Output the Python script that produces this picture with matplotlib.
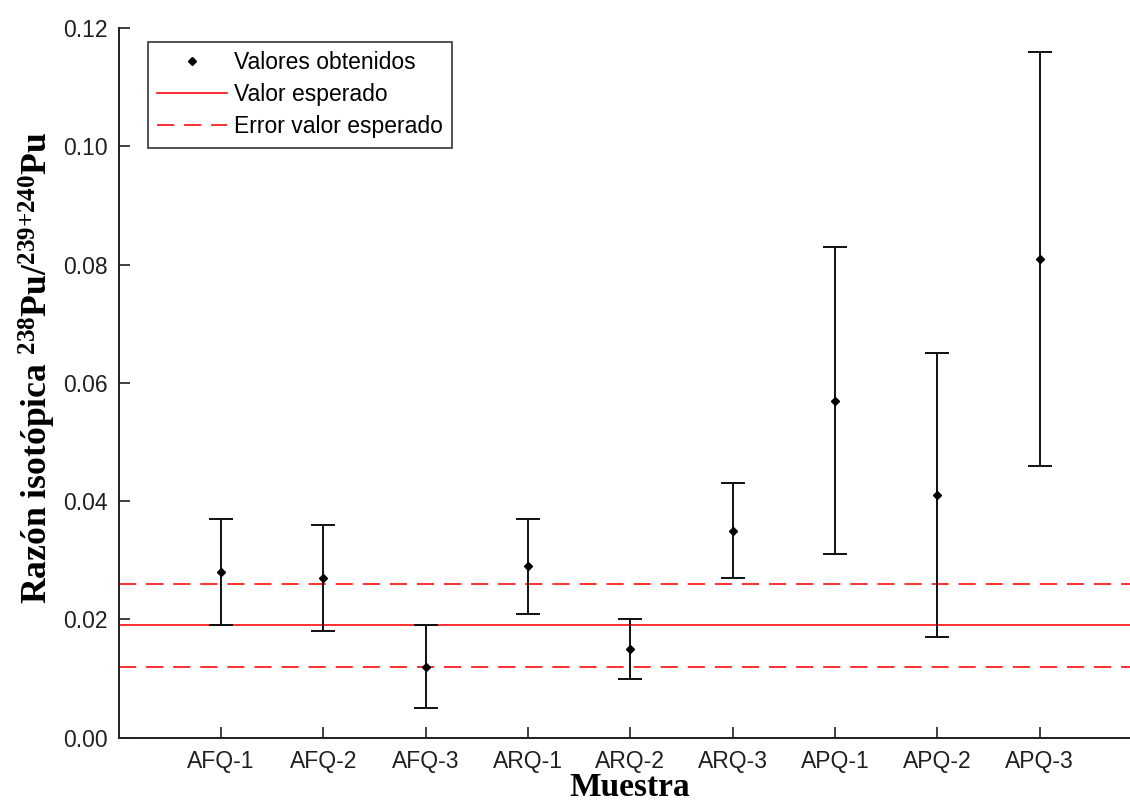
import numpy as np
import matplotlib
matplotlib.use("Agg")
from matplotlib import pyplot as plt
from matplotlib.ticker import FormatStrFormatter

# datos
muestras = ['AFQ-1', 'AFQ-2', 'AFQ-3', 'ARQ-1', 'ARQ-2', 'ARQ-3', 'APQ-1', 'APQ-2', 'APQ-3']
razon = [0.028, 0.027, 0.012, 0.029, 0.015, 0.035, 0.057, 0.041, 0.081]
err_inf = [0.019, 0.018, 0.005, 0.021, 0.010, 0.027, 0.031, 0.017, 0.046]
err_sup = [0.037, 0.036, 0.019, 0.037, 0.020, 0.043, 0.083, 0.065, 0.116]
valor_esperado = 0.019
error_esperado = [0.012, 0.026]

plt.rcParams['font.family'] = ['Liberation Sans', 'DejaVu Sans']
plt.rcParams['mathtext.fontset'] = 'custom'
plt.rcParams['mathtext.rm'] = 'Liberation Serif:bold'
plt.rcParams['mathtext.bf'] = 'Liberation Serif:bold'
plt.rcParams['mathtext.default'] = 'bf'

fig = plt.figure(figsize=(11.3, 8.05), dpi=100)
ax = fig.add_axes([118.5/1130, 1 - 737.7/805, (1142 - 118.5)/1130, (737.7 - 28)/805])

x = np.arange(1, len(muestras) + 1)
razon = np.array(razon)
yerr = [razon - np.array(err_inf), np.array(err_sup) - razon]

# lineas de referencia
ax.axhline(valor_esperado, color='#ff2020', lw=1.3, label='Valor esperado', zorder=1)
for i, v in enumerate(error_esperado):
    l = ax.axhline(v, color='#ff2020', lw=1.3, label='Error valor esperado' if i == 0 else None, zorder=1)
    l.set_dashes((9.5, 5.5))

ax.errorbar(x, razon, yerr=yerr, fmt='none', ecolor='#101010', elinewidth=1.4,
            capsize=8.5, capthick=1.4, zorder=2)
ax.plot(x, razon, 'D', color='black', ms=4.2, linestyle='none', label='Valores obtenidos', zorder=3)

ax.set_xlim(0, 10)
ax.set_ylim(0, 0.12)
ax.set_xticks(x)
ax.set_xticklabels(muestras)
ax.set_yticks(np.arange(0, 0.121, 0.02))
ax.yaxis.set_major_formatter(FormatStrFormatter('%.2f'))
ax.tick_params(direction='in', length=8, width=1.2, labelsize=16.5, colors='#202020', pad=9)
ax.tick_params(axis='y', pad=8)

for s in ['top', 'right']:
    ax.spines[s].set_visible(False)
for s in ['left', 'bottom']:
    ax.spines[s].set_linewidth(1.4)
    ax.spines[s].set_color('#202020')

fig.text(630/1130, 1 - 803/805, 'Muestra', family='Liberation Serif', fontweight='bold',
         fontsize=24, ha='center', va='bottom')
fig.text(37/1130, 1 - 368/805, r'Razón isotópica $^{238}$Pu/$^{239{+}240}$Pu',
         family='Liberation Serif', fontweight='bold', fontsize=25.7,
         rotation=90, ha='center', va='center')

h, lab = ax.get_legend_handles_labels()
orden = [lab.index('Valores obtenidos'), lab.index('Valor esperado'), lab.index('Error valor esperado')]
leg = ax.legend([h[i] for i in orden], [lab[i] for i in orden], loc='upper left',
                bbox_to_anchor=(148/1130, 1 - 42/805), bbox_transform=fig.transFigure,
                fontsize=16.5, frameon=True, fancybox=False, handlelength=3.05,
                handletextpad=0.3, borderpad=0.4, labelspacing=0.4, borderaxespad=0)
leg.get_frame().set_edgecolor('black')
leg.get_frame().set_linewidth(1.2)

plt.savefig('out.png', dpi=100)
